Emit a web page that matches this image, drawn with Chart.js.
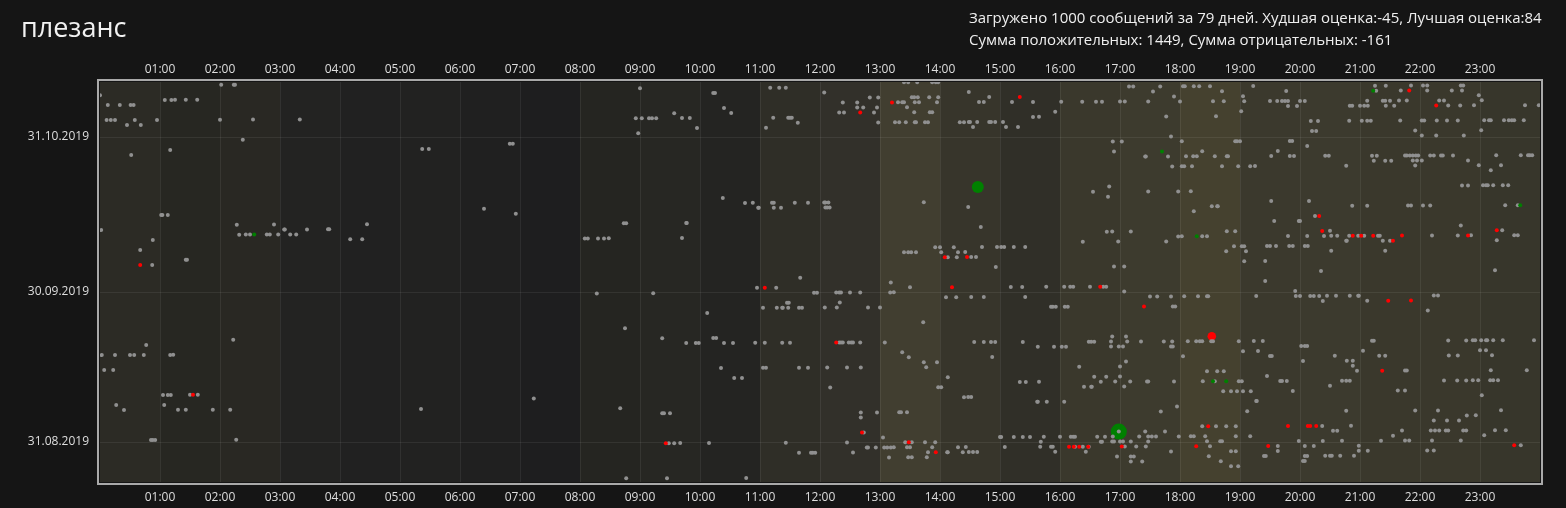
<!DOCTYPE html>
<html>
<head>
<meta charset="utf-8">
<script src="https://cdn.jsdelivr.net/npm/chart.js@4.4.1/dist/chart.umd.min.js"></script>
<style>
  html, body { margin: 0; padding: 0; background: #151515; overflow: hidden; }
  #wrap { position: relative; width: 1566px; height: 508px; }
  canvas { position: absolute; left: 0; top: 0; }
  #title { position: absolute; left: 21px; top: 8px; font: 27px "Open Sans"; color: #f2f2f2; }
  #info { position: absolute; left: 969px; top: 6px; font: 15px/22px "Open Sans"; color: #efefef; white-space: nowrap; }
</style>
</head>
<body>
<div id="wrap">
  <canvas id="chart" width="1566" height="508"></canvas>
  <div id="title">плезанс</div>
  <div id="info">Загружено 1000 сообщений за 79 дней. Худшая оценка:-45, Лучшая оценка:84<br>Сумма положительных: 1449, Сумма отрицательных: -161</div>
</div>
<script>
// day 0 = 23.08.2019; each row: [day, hour, hour, ...]
const hourTicks = ['01:00', '02:00', '03:00', '04:00', '05:00', '06:00', '07:00', '08:00',
  '09:00', '10:00', '11:00', '12:00', '13:00', '14:00', '15:00', '16:00', '17:00', '18:00',
  '19:00', '20:00', '21:00', '22:00', '23:00'];
const dateTickDays = [8, 38, 69];
const dateTickLabels = ['31.08.2019', '30.09.2019', '31.10.2019'];
const tzShiftHours = 9;

const grayRows = [
  [79, 2.02, 2.23, 2.25, 13.4, 13.47, 13.62, 13.87, 13.93, 13.97],
  [78, 9.0, 11.17, 11.32, 11.43, 17.15, 17.22, 17.67, 18.05, 18.08, 18.23, 18.32, 18.5, 19.22, 21.25, 21.43, 21.85, 22.05, 22.12, 22.68, 22.72],
  [77, 0.0, 10.22, 10.25, 12.07, 14.48, 17.55, 18.7, 19.77, 21.27, 21.68, 22.12, 22.53, 22.7],
  [76, 1.08, 1.19, 1.25, 1.43, 1.62, 12.83, 12.97, 13.53, 13.57, 13.63, 13.82, 13.97, 14.82, 17.9, 19.05, 22.98],
  [75, 0.13, 0.33, 0.51, 0.56, 12.38, 12.62, 13.3, 13.37, 13.4, 13.58, 13.65, 13.95, 14.65, 14.73, 15.2, 15.55, 16.02, 16.37, 16.6, 16.7, 17.0, 17.08, 17.47, 18.0, 18.55, 18.73, 19.07, 19.5, 19.62, 19.7, 19.75, 19.8, 20.0, 20.08, 21.12, 21.38, 21.42, 21.5, 21.65, 21.78, 22.32, 22.4, 23.03],
  [74, 10.4, 12.62, 12.72, 12.95, 13.45, 19.8, 19.95, 20.83, 20.87, 21.0, 21.07, 21.13, 21.43, 21.57, 22.47, 22.67, 22.9, 23.75, 23.98],
  [73, 9.57, 10.52, 12.32, 12.4, 12.9, 13.57, 13.83, 13.87, 15.92, 19.02],
  [72, 0.11, 0.18, 0.25, 0.58, 0.95, 2.0, 2.55, 3.33, 8.93, 9.03, 9.15, 9.2, 9.27, 9.7, 9.83, 11.22, 11.47, 11.5, 11.53, 15.55, 15.65, 17.77, 18.6],
  [71, 0.45, 0.68, 11.63, 12.97, 13.25, 13.32, 13.43, 13.58, 13.6, 13.75, 13.8, 14.33, 14.4, 14.48, 14.5, 14.62, 14.82, 14.85, 14.92, 15.05, 20.18, 20.3, 20.82, 21.03, 21.12, 21.18, 21.67, 22.03, 22.07, 22.28, 22.45, 22.63, 23.07, 23.15, 23.18, 23.4, 23.48, 23.53, 23.57, 23.73],
  [70, 9.95, 11.1, 14.55, 15.1, 15.3],
  [69, 8.97, 20.2, 20.27, 21.92, 23.02],
  [68, 2.38, 17.85, 22.03, 22.27, 22.73],
  [67, 6.83, 6.88, 16.88, 17.03, 18.03, 18.92, 18.95, 19.0, 19.83, 19.87],
  [66, 1.17, 5.37, 5.48, 20.12],
  [65, 0.52, 16.9, 18.37, 19.63],
  [64, 17.42, 17.43, 17.8, 18.1, 18.22, 18.28, 18.58, 18.78, 18.8, 19.52, 19.83, 19.9, 20.42, 20.48, 21.2, 21.28, 21.75, 21.78, 21.83, 21.88, 21.93, 21.97, 22.17, 22.23, 22.35, 22.38, 22.55, 23.27, 23.68, 23.8, 23.83, 23.87],
  [63, 21.23, 21.42, 21.52, 21.88, 21.95, 22.03, 22.8],
  [62, 17.87, 18.03, 18.07, 18.2, 18.7, 18.97, 19.17, 19.25, 20.77, 21.92, 22.98, 23.35],
  [61, 23.18],
  [58, 16.82, 22.7, 22.8, 23.05, 23.1, 23.13, 23.22, 23.38, 23.47],
  [57, 16.55, 17.47, 17.97, 18.18],
  [56, 10.38, 16.8],
  [55, 10.75, 10.88, 11.2, 11.23, 11.58, 11.8, 12.07, 12.09, 12.14, 13.73, 19.52, 20.15],
  [54, 6.4, 10.97, 10.98, 11.23, 11.35, 12.09, 12.12, 12.16, 14.47, 18.53, 18.62, 18.63, 20.87, 21.12, 21.8, 21.85, 22.05, 22.17, 23.42, 23.63],
  [53, 1.02, 1.04, 1.13, 6.93, 18.23],
  [52, 20.25],
  [51, 2.28, 2.9, 4.45, 8.73, 8.77, 9.77, 9.78, 19.57, 19.98, 20.0],
  [50, 0.02, 3.07, 3.08, 3.45, 3.8, 3.82, 14.68, 22.68],
  [49, 2.32, 2.43, 2.5, 2.78, 2.83, 2.97, 3.17, 3.27, 16.78, 16.87, 17.18, 18.78, 18.92, 20.5, 23.37],
  [48, 0.88, 4.17, 4.37, 8.08, 8.13, 8.3, 8.4, 8.48, 9.7, 17.97, 18.03, 18.37, 18.45, 19.8, 20.12, 20.4, 20.52, 20.62, 20.82, 20.97, 21.07, 21.3, 21.33, 22.2, 22.63, 22.85, 23.57, 23.63],
  [47, 16.38, 16.97, 17.77, 20.77, 20.78, 21.38, 21.5, 23.28],
  [46, 0.67, 13.92, 14.0, 14.23, 14.7, 14.95, 15.02, 15.07, 15.23, 15.42, 18.9, 19.03, 19.07, 19.45, 19.5, 19.6, 19.82, 19.88, 20.08, 20.13],
  [45, 13.4, 13.47, 13.52, 13.6, 14.02, 14.3, 14.42, 18.77, 19.1, 20.52, 21.42],
  [44, 1.43, 1.45, 14.13, 14.28, 14.52, 14.6],
  [43, 0.87, 19.07, 19.42],
  [42, 14.93, 16.9, 17.07],
  [41, 20.35, 23.25],
  [40, 11.67],
  [39, 13.18, 19.42],
  [38, 10.95, 11.27, 13.5, 15.18, 15.37, 15.77, 16.07, 16.17, 16.22, 16.5, 16.72, 16.77],
  [37, 8.28, 9.22, 11.9, 11.95, 12.27, 12.32, 12.35, 12.5, 12.67, 13.17, 13.23, 17.07, 19.92],
  [36, 14.1, 14.27, 14.52, 14.73, 15.42, 17.5, 17.62, 17.85, 18.07, 18.3, 18.45, 18.47, 19.27, 19.93, 20.0, 20.17, 20.23, 20.32, 20.45, 20.6, 20.83, 20.97, 20.98, 22.23, 22.3],
  [35, 11.45, 11.48, 12.33, 20.38, 21.12],
  [34, 11.05, 11.28, 11.37, 11.38, 11.47, 11.65, 11.7, 12.08, 12.28, 12.8, 13.0, 15.85, 15.88, 15.93, 16.08, 16.13, 17.88, 17.92],
  [33, 10.12, 22.13],
  [31, 13.72],
  [30, 8.75],
  [28, 2.22, 9.37, 10.22, 10.27, 16.87, 17.1],
  [27, 0.77, 9.77, 9.93, 9.98, 10.4, 10.55, 10.92, 11.08, 11.37, 11.5, 12.32, 12.35, 12.38, 12.48, 12.52, 12.55, 12.67, 13.08, 14.57, 14.73, 14.85, 14.92, 15.38, 16.48, 16.52, 16.57, 16.85, 17.12, 17.35, 17.73, 17.87, 18.13, 18.27, 18.33, 18.37, 18.52, 18.55, 18.98, 19.23, 19.38, 21.2, 21.23, 22.47, 22.77, 22.88, 22.92, 23.02, 23.1, 23.12, 23.22, 23.38, 23.9],
  [26, 15.63, 15.9, 16.03, 16.1, 16.85, 16.98, 17.05, 17.85, 17.88, 20.02, 20.08, 20.12],
  [25, 0.03, 0.25, 0.5, 0.57, 0.73, 1.17, 1.22, 13.37, 19.05, 19.3, 21.05, 23.0, 23.1],
  [24, 13.48, 14.87, 18.05, 19.5, 19.53, 20.58, 21.32, 21.42, 22.48, 22.63, 23.2],
  [23, 13.73, 13.95, 17.1, 20.05, 20.78, 20.88],
  [22, 0.07, 0.22, 10.35, 11.05, 11.1, 11.65, 11.8, 12.12, 12.45, 12.68, 13.77, 16.32, 17.0, 20.88],
  [21, 18.45, 18.62, 18.73, 20.95, 21.75, 21.78, 23.18, 23.78],
  [20, 10.57, 10.7, 14.13, 16.57, 16.77, 17.0, 19.45],
  [19, 15.33, 15.43, 15.65, 16.68, 16.92, 17.17, 17.45, 17.47, 17.9, 18.38, 18.58, 18.98, 19.03, 19.67, 19.7, 19.78, 20.7, 20.77, 20.83, 22.4, 22.62, 22.77, 22.88, 22.97, 23.17, 23.22, 23.3],
  [18, 12.17, 13.97, 14.02, 16.4, 16.52, 16.53, 17.07, 20.5],
  [17, 1.05, 1.13, 1.18, 1.5, 1.63, 18.72, 18.85, 18.95, 19.05, 19.18, 19.88, 21.63, 21.75],
  [16, 7.23, 14.4, 14.47, 14.52, 23.03],
  [15, 0.27, 1.07, 15.62, 15.63, 15.78, 16.07, 19.27, 19.28],
  [14, 0.4, 1.3, 1.43, 1.88, 2.17, 5.35, 8.67, 17.95],
  [13, 9.37, 9.4, 9.5, 12.68, 12.95, 13.32, 13.35, 13.45, 17.68, 19.12, 20.77, 21.92, 22.3, 23.35],
  [12, 12.68, 22.78, 22.93],
  [11, 22.23, 22.45, 22.65],
  [10, 18.37, 18.6, 18.77, 18.93, 20.37, 20.85],
  [9, 12.73, 16.98, 17.42, 17.75, 20.55, 20.62, 21.7, 22.18, 22.25, 22.32, 22.43, 22.47, 22.72, 22.77, 23.25, 23.43],
  [8, 0.85, 0.88, 0.92, 2.27, 13.05, 15.0, 15.02, 15.23, 15.38, 15.5, 15.73, 16.0, 16.18, 16.22, 16.25, 16.62, 16.75, 16.88, 17.32, 17.47, 17.53, 17.6, 17.98, 18.18, 18.23, 18.42, 18.93, 19.17, 21.55, 23.07],
  [7, 9.48, 9.57, 9.67, 10.15, 11.43, 12.45, 13.42, 13.53, 13.75, 13.92, 15.68, 16.68, 16.7, 16.87, 16.9, 17.0, 17.05, 17.18, 17.47, 18.45, 18.67, 18.7, 19.98, 20.38, 20.7, 21.35, 21.75, 21.82, 22.2, 22.68],
  [6, 12.78, 12.8, 12.93, 13.07, 13.12, 13.18, 13.23, 13.45, 13.5, 13.87, 14.3, 14.43, 15.08, 15.67, 15.85, 15.88, 16.25, 16.38, 16.48, 17.08, 17.27, 17.43, 18.5, 19.63, 20.08, 20.23, 20.98, 23.68],
  [5, 11.65, 11.85, 11.88, 11.92, 12.55, 13.8, 14.12, 14.13, 14.38, 14.48, 14.55, 14.62, 15.92, 16.43, 17.85, 18.85, 18.93, 19.63, 20.98, 21.13, 22.12, 22.23],
  [4, 13.15, 13.47, 13.53, 13.78, 16.95, 17.18, 17.23, 18.48, 19.4, 19.43, 20.08, 20.12, 20.42, 20.5, 20.53, 20.67, 20.9],
  [3, 17.18, 17.37, 18.68, 20.05, 20.08],
  [2, 18.85, 18.97],
  [0, 8.77, 9.45, 10.77],
];

const redRows = [
  [77, 21.82], [76, 15.33], [75, 13.2], [74, 22.27], [73, 12.67], [52, 20.32],
  [49, 20.37, 23.28], [48, 20.88, 21.02, 21.22, 21.7, 22.8], [47, 21.55],
  [44, 14.08, 14.45], [43, 0.67], [38, 11.08, 14.2, 16.67], [35, 21.47, 21.85],
  [34, 17.4], [27, 12.27], [21, 21.37], [17, 1.55], [10, 18.47, 19.8, 20.13, 20.17, 20.27],
  [9, 12.7], [7, 9.43, 13.48], [6, 16.15, 16.23, 16.32, 16.47, 17.03, 18.27, 19.47, 23.57],
  [5, 13.93],
];

const greenRows = [
  [77, 21.22], [65, 17.7], [54, 23.67], [49, 2.57], [48, 18.28], [19, 18.55, 18.77],
];

// messages with extreme scores
const bigDays = [58, 9, 28];
const bigHours = [14.63, 16.98, 18.53];
const bigScores = [63, 84, -45];

const columnShade = [
  '#2c2b25', '#272722', '#292823', '#232322', '#212121', '#222221',
  '#202020', '#1e1e1f', '#252521', '#272723', '#242422', '#2f2e27',
  '#32302a', '#413e30', '#37352b', '#302f28', '#3a382c', '#3d3b2e',
  '#45412f', '#3b392d', '#3c3a2e', '#3a382c', '#3a382c', '#37362b',
];

function toPoint(day, hour) {
  return { x: hour, y: day + (hour + tzShiftHours) / 24 };
}

function expand(rows) {
  const pts = [];
  rows.forEach(r => r.slice(1).forEach(h => pts.push(toPoint(r[0], h))));
  return pts;
}

const bigPoints = bigDays.map((d, i) => toPoint(d, bigHours[i]));

const hourColumns = {
  id: 'hourColumns',
  beforeDraw(chart) {
    const { ctx, chartArea: a, scales: { x } } = chart;
    ctx.save();
    ctx.fillStyle = '#151515';
    ctx.fillRect(0, 0, chart.width, chart.height);
    columnShade.forEach((c, i) => {
      const l = x.getPixelForValue(i);
      const r = x.getPixelForValue(i + 1);
      ctx.fillStyle = c;
      ctx.fillRect(l, a.top, r - l, a.bottom - a.top);
    });
    ctx.restore();
  },
  afterDraw(chart) {
    const { ctx, chartArea: a } = chart;
    ctx.save();
    ctx.strokeStyle = '#a9a9a9';
    ctx.lineWidth = 2;
    ctx.strokeRect(a.left - 2, a.top - 2, a.right - a.left + 4, a.bottom - a.top + 4);
    ctx.restore();
  }
};

const tickFont = { family: 'Open Sans', size: 12 };
const gridColor = 'rgba(255,255,255,0.07)';

const ctx = document.getElementById('chart').getContext('2d');
new Chart(ctx, {
  type: 'scatter',
  data: {
    datasets: [
      { data: expand(redRows), backgroundColor: '#ff0000', clip: 0 },
      { data: expand(greenRows), backgroundColor: '#008000', clip: 0 },
      { data: expand(grayRows), backgroundColor: '#909090', clip: 0 },
      {
        data: bigPoints,
        backgroundColor: bigScores.map(s => (s < 0 ? '#ff0000' : '#008000')),
        pointRadius: bigScores.map(s => Math.abs(s) / 10.5),
        pointHoverRadius: bigScores.map(s => Math.abs(s) / 10.5),
        clip: 0
      }
    ]
  },
  options: {
    responsive: false,
    animation: false,
    devicePixelRatio: 1,
    events: [],
    layout: { padding: { left: 0, right: 26, top: 0, bottom: 0 } },
    elements: { point: { radius: 2, hoverRadius: 2, borderWidth: 0 } },
    plugins: { legend: { display: false }, tooltip: { enabled: false } },
    scales: {
      x: {
        type: 'linear', position: 'bottom', min: 0, max: 24,
        afterFit: (axis) => { axis.height = 26; },
        afterBuildTicks: (axis) => { axis.ticks = hourTicks.map(t => ({ value: parseInt(t, 10) })); },
        grid: { color: gridColor, drawTicks: false },
        border: { display: false },
        ticks: {
          callback: (v) => hourTicks[v - 1], color: '#dedede', font: tickFont,
          padding: 8, autoSkip: false, maxRotation: 0
        }
      },
      x2: {
        type: 'linear', position: 'top', min: 0, max: 24,
        afterFit: (axis) => { axis.height = 82; },
        afterBuildTicks: (axis) => { axis.ticks = hourTicks.map(t => ({ value: parseInt(t, 10) })); },
        grid: { display: false, drawTicks: false },
        border: { display: false },
        ticks: {
          callback: (v) => hourTicks[v - 1], color: '#dedede', font: tickFont,
          padding: 5, autoSkip: false, maxRotation: 0
        }
      },
      y: {
        type: 'linear', min: 0, max: 80,
        afterFit: (axis) => { axis.width = 100; },
        afterBuildTicks: (axis) => { axis.ticks = dateTickDays.map(v => ({ value: v })); },
        grid: { color: gridColor, drawTicks: false },
        border: { display: false },
        ticks: {
          callback: (v) => dateTickLabels[dateTickDays.indexOf(v)], color: '#dedede',
          font: tickFont, padding: 11, autoSkip: false
        }
      }
    }
  },
  plugins: [hourColumns]
});
</script>
</body>
</html>
